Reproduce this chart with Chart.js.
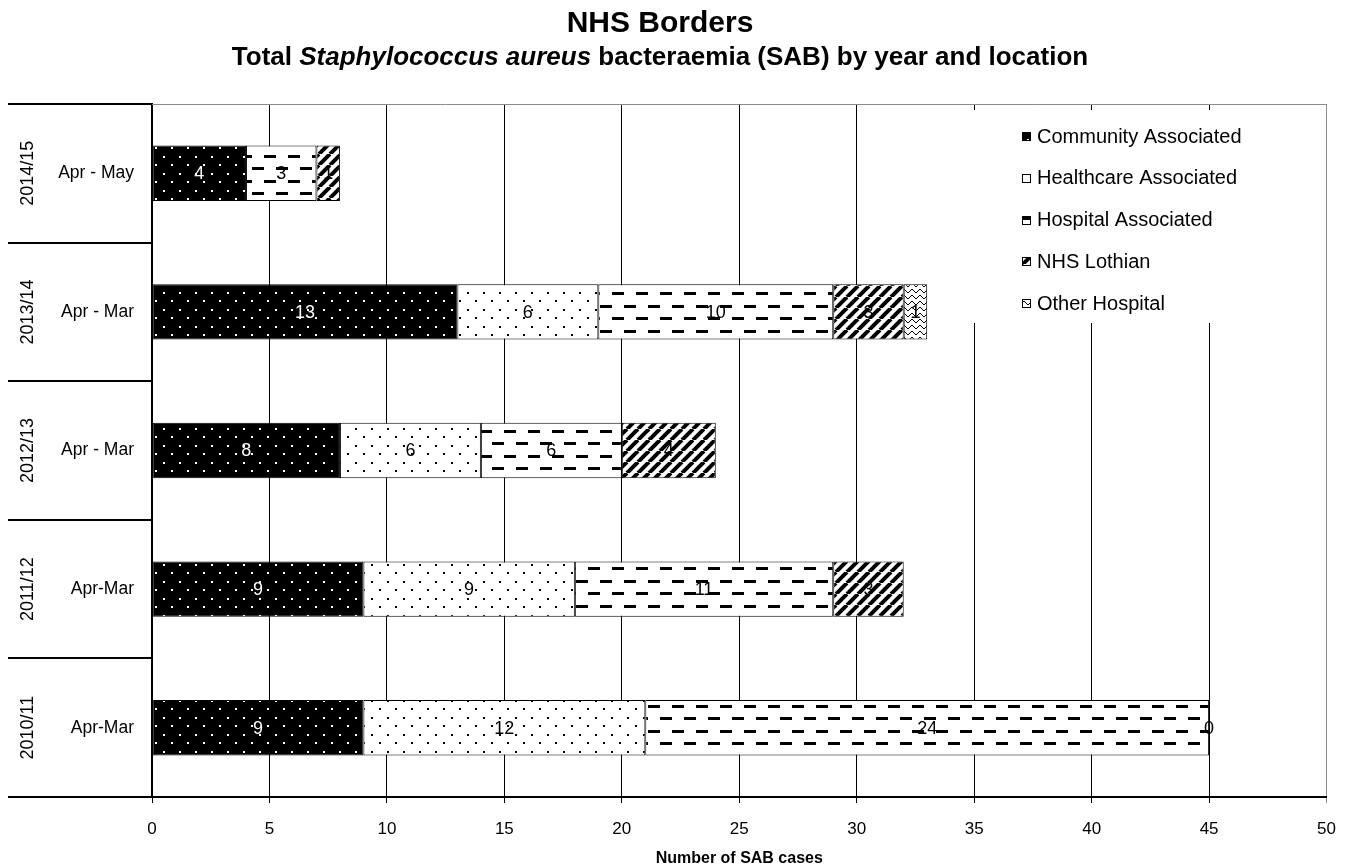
<!DOCTYPE html>
<html>
<head>
<meta charset="utf-8">
<title>NHS Borders - SAB by year and location</title>
<script src="https://cdn.jsdelivr.net/npm/chart.js@4.4.1/dist/chart.umd.min.js"></script>
<style>
  body { margin: 0; background: #fff; }
  #wrap { position: relative; width: 1352px; height: 868px; }
  canvas { position: absolute; left: 0; top: 0; }
  .ttl {
    position: absolute; left: 0; width: 1320px; text-align: center; white-space: nowrap;
    font-family: "Liberation Sans", Arial, sans-serif; font-weight: bold; color: #000;
  }
  #t1 { top: 7px; font-size: 30px; line-height: 30px; }
  #t2 { top: 43px; font-size: 26px; line-height: 26px; }
</style>
</head>
<body>
<div id="wrap">
  <canvas id="myChart" width="1352" height="868"></canvas>
  <div class="ttl" id="t1">NHS Borders</div>
  <div class="ttl" id="t2">Total <i>Staphylococcus aureus</i> bacteraemia (SAB) by year and location</div>
</div>
<script>
'use strict';

// categories, top to bottom
const years = ['2014/15', '2013/14', '2012/13', '2011/12', '2010/11'];
const periods = ['Apr - May', 'Apr - Mar', 'Apr - Mar', 'Apr-Mar', 'Apr-Mar'];

// number of SAB cases per location
const community = [4, 13, 8, 9, 9];
const healthcare = [null, 6, 6, 9, 12];
const hospital = [3, 10, 6, 11, 24];
const lothian = [1, 3, 4, 3, 0];
const otherHospital = [null, 1, null, null, null];

const xMax = 50;
const xStep = 5;

Chart.defaults.font.family = '"Liberation Sans", Arial, sans-serif';
Chart.defaults.color = '#000';

let canvas = document.getElementById('myChart');
let ctx = canvas.getContext('2d');

/**
 *  Builds a repeating fill pattern from a small tile.
 */
function makePattern(w, h, bg, paint) {
    let tile = document.createElement('canvas');
    tile.width = w;
    tile.height = h;
    let g = tile.getContext('2d');
    g.fillStyle = bg;
    g.fillRect(0, 0, w, h);
    g.fillStyle = '#000';
    g.strokeStyle = '#000';
    paint(g);
    return ctx.createPattern(tile, 'repeat');
}

// black with white dots
const patCommunity = makePattern(16, 17, '#000', g => {
    g.fillStyle = '#fff';
    g.fillRect(3, 3, 2, 2);
    g.fillRect(11, 11, 2, 2);
});
// white with black dots
const patHealthcare = makePattern(16, 17, '#fff', g => {
    g.fillRect(3, 3, 2, 2);
    g.fillRect(11, 11, 2, 2);
});
// horizontal dashes
const patHospital = makePattern(24, 25, '#fff', g => {
    g.fillRect(0, 5, 12, 3);
    g.fillRect(12, 17, 12, 3);
});
// wide diagonal stripes
const patLothian = makePattern(11, 11, '#fff', g => {
    g.lineWidth = 4;
    for (let k = -11; k <= 11; k += 11) {
        g.beginPath();
        g.moveTo(k, 11);
        g.lineTo(k + 11, 0);
        g.stroke();
    }
});
// zigzag
const patOther = makePattern(8, 6, '#fff', g => {
    g.lineWidth = 1;
    g.beginPath();
    g.moveTo(0, 1);
    g.lineTo(4, 5);
    g.lineTo(8, 1);
    g.stroke();
});

const barCommon = {
    borderColor: '#000',
    borderWidth: 1,
    borderSkipped: false,
    barPercentage: 0.4,
    categoryPercentage: 1,
};

// numbers in the middle of each segment
const segmentLabels = {
    id: 'segmentLabels',
    afterDatasetsDraw(chart) {
        let c = chart.ctx;
        c.save();
        c.font = '18px "Liberation Sans", Arial, sans-serif';
        c.textAlign = 'center';
        c.textBaseline = 'middle';
        chart.data.datasets.forEach((ds, i) => {
            chart.getDatasetMeta(i).data.forEach((el, j) => {
                let v = ds.data[j];
                if (v === null || v === undefined) return;
                let p = el.getCenterPoint();
                c.fillStyle = i === 0 ? '#fff' : '#000';
                c.fillText(String(v), p.x, p.y + 1);
            });
        });
        c.restore();
    }
};

// legend box sitting inside the plot, top right
const boxLegend = {
    id: 'boxLegend',
    afterDatasetsDraw(chart) {
        let c = chart.ctx;
        c.save();
        c.fillStyle = '#fff';
        c.fillRect(962, 110, 290, 213);
        c.font = '20px "Liberation Sans", Arial, sans-serif';
        c.textBaseline = 'middle';
        c.textAlign = 'left';
        chart.data.datasets.forEach((ds, i) => {
            let y = 136 + i * 41.75;
            c.fillStyle = ds.backgroundColor;
            c.fillRect(1022, Math.round(y - 4), 9, 9);
            c.strokeStyle = '#000';
            c.lineWidth = 1;
            c.strokeRect(1022.5, Math.round(y - 4) + 0.5, 8, 8);
            c.fillStyle = '#000';
            c.fillText(ds.label, 1037, y + 1);
        });
        c.restore();
    }
};

// lines between the year groups on the left, and the grey frame on top
const categoryLines = {
    id: 'categoryLines',
    afterDraw(chart) {
        let c = chart.ctx;
        let area = chart.chartArea;
        let yScale = chart.scales.y;
        c.save();
        c.strokeStyle = '#000';
        c.lineWidth = 2;
        for (let i = 0; i <= years.length; i++) {
            let py = Math.round(yScale.getPixelForValue(i - 0.5));
            c.beginPath();
            c.moveTo(8, py);
            c.lineTo(area.left, py);
            c.stroke();
        }
        c.strokeStyle = '#8c8c8c';
        c.lineWidth = 1;
        c.beginPath();
        c.moveTo(area.left, Math.round(area.top) + 0.5);
        c.lineTo(area.right, Math.round(area.top) + 0.5);
        c.stroke();
        c.restore();
    }
};

let gridColor = function (context) {
    return context.tick && context.tick.value === xMax ? '#8c8c8c' : '#000';
};

let myChart = new Chart(ctx, {
    type: 'bar',
    data: {
        labels: periods,
        datasets: [
            Object.assign({ label: 'Community Associated', data: community, backgroundColor: patCommunity }, barCommon),
            Object.assign({ label: 'Healthcare Associated', data: healthcare, backgroundColor: patHealthcare }, barCommon),
            Object.assign({ label: 'Hospital Associated', data: hospital, backgroundColor: patHospital }, barCommon),
            Object.assign({ label: 'NHS Lothian', data: lothian, backgroundColor: patLothian }, barCommon),
            Object.assign({ label: 'Other Hospital', data: otherHospital, backgroundColor: patOther }, barCommon),
        ]
    },
    options: {
        indexAxis: 'y',
        responsive: false,
        animation: false,
        layout: {
            padding: { top: 104, right: 22, left: 0, bottom: 0 }
        },
        plugins: {
            legend: { display: false },
            tooltip: { enabled: false },
        },
        scales: {
            x: {
                stacked: true,
                min: 0,
                max: xMax,
                ticks: { stepSize: xStep, color: '#000', font: { size: 17 }, padding: 16 },
                grid: { color: gridColor, tickColor: gridColor, lineWidth: 1, tickLength: 6 },
                border: { display: true, color: '#000', width: 2 },
                title: {
                    display: true,
                    text: 'Number of SAB cases',
                    color: '#000',
                    font: { size: 16, weight: 'bold' },
                    padding: { top: 0, bottom: 0 },
                },
                afterFit: function (scale) { scale.height = 71; },
            },
            y: {
                stacked: true,
                weight: 1,
                grid: { display: false, drawTicks: false },
                border: { display: true, color: '#000', width: 2 },
                ticks: { color: '#000', font: { size: 17.5 }, crossAlign: 'near', padding: 18 },
                afterFit: function (scale) { scale.width = 100; },
            },
            y2: {
                type: 'category',
                position: 'left',
                weight: 2,
                labels: years,
                offset: true,
                grid: { display: false, drawTicks: false, offset: true },
                border: { display: false },
                ticks: { color: '#000', font: { size: 18 }, minRotation: 90, maxRotation: 90, crossAlign: 'center', padding: -9 },
                afterFit: function (scale) { scale.width = 52; },
            }
        }
    },
    plugins: [segmentLabels, boxLegend, categoryLines]
});
</script>
</body>
</html>
